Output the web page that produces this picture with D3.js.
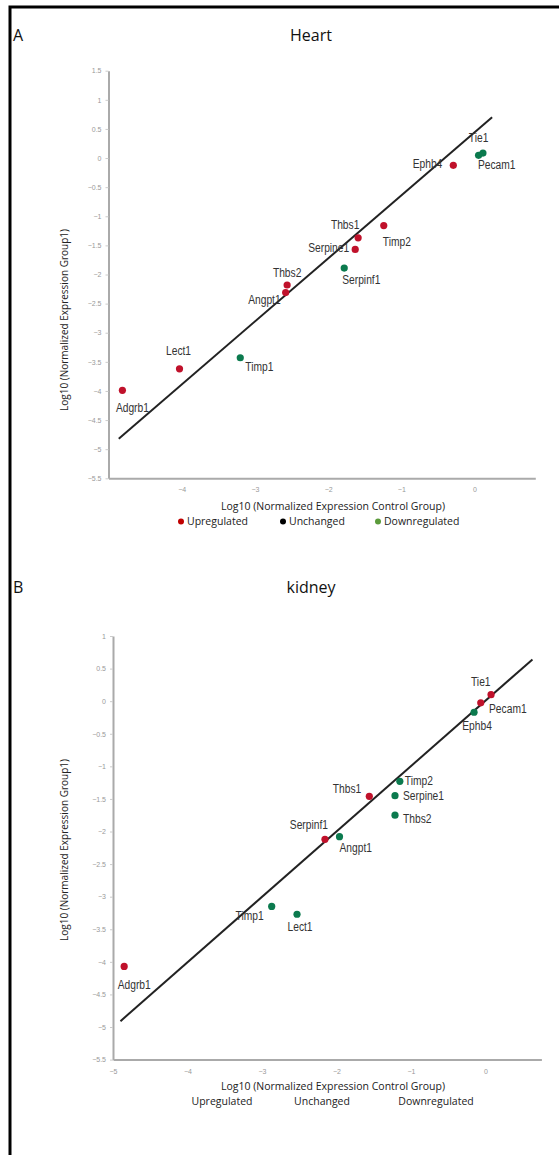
<!DOCTYPE html>
<html>
<head>
<meta charset="utf-8">
<script src="https://cdn.jsdelivr.net/npm/d3@7"></script>
<style>
    body { margin: 0; background: #fff; }
    svg { display: block; }
</style>
</head>
<body>
<svg id="chart"></svg>
<script>
// DATA
var genes = ['Adgrb1', 'Lect1', 'Timp1', 'Thbs2', 'Angpt1', 'Serpinf1', 'Serpine1', 'Thbs1', 'Timp2', 'Ephb4', 'Tie1', 'Pecam1'];

var heartControl = [-4.81, -4.03, -3.20, -2.56, -2.58, -1.78, -1.63, -1.59, -1.24, -0.29, 0.055, 0.115];
var heartGroup1 = [-3.99, -3.62, -3.43, -2.18, -2.31, -1.89, -1.57, -1.37, -1.16, -0.125, 0.046, 0.086];
var heartStatus = ['up', 'up', 'down', 'up', 'up', 'down', 'up', 'up', 'up', 'up', 'down', 'down'];
var heartFit = [[-4.86, -4.82], [0.24, 0.70]];

var kidneyControl = [-4.85, -2.53, -2.87, -1.215, -1.96, -2.155, -1.215, -1.56, -1.15, -0.154, -0.064, 0.074];
var kidneyGroup1 = [-4.07, -3.27, -3.15, -1.75, -2.08, -2.12, -1.45, -1.46, -1.23, -0.17, -0.026, 0.10];
var kidneyStatus = ['up', 'down', 'down', 'down', 'down', 'up', 'down', 'up', 'down', 'down', 'up', 'up'];
var kidneyFit = [[-4.9, -4.91], [0.63, 0.64]];

var heartYTicks = [1.5, 1, 0.5, 0, -0.5, -1, -1.5, -2, -2.5, -3, -3.5, -4, -4.5, -5, -5.5];
var heartXTicks = [-4, -3, -2, -1, 0];
var kidneyYTicks = [1, 0.5, 0, -0.5, -1, -1.5, -2, -2.5, -3, -3.5, -4, -4.5, -5, -5.5];
var kidneyXTicks = [-5, -4, -3, -2, -1, 0];

var legendLabels = ['Upregulated', 'Unchanged', 'Downregulated'];

// label placement (offset from the dot, text anchor)
var heartLabelPos = [[10, 17, 'middle'], [-1, -18, 'middle'], [5, 9, 'start'], [0, -12, 'middle'],
    [-5, 7, 'end'], [-2, 12, 'start'], [-6, -2, 'end'], [-13, -13, 'middle'],
    [-1, 16, 'start'], [-11, -2, 'end'], [0, -18, 'middle'], [-5, 12, 'start']];
var kidneyLabelPos = [[10, 18, 'middle'], [3, 12, 'middle'], [-8, 9, 'end'], [8, 3, 'start'],
    [0, 11, 'start'], [3, -15, 'end'], [8, 0, 'start'], [-8, -8, 'end'],
    [5, -1, 'start'], [3, 13, 'middle'], [0, -21, 'middle'], [-2, 14, 'start']];

var statusColor = {up: '#c0112b', down: '#0b7a4e', same: '#000'};
var legendColor = ['#c00000', '#000000', '#5b9b3b'];

var svgWidth = 559,
    svgHeight = 1155;

var svg = d3.select('#chart')
    .attr('width', svgWidth)
    .attr('height', svgHeight);

// outer frame
svg.append('rect')
    .attr('x', 10)
    .attr('y', 7)
    .attr('width', 570)
    .attr('height', 1170)
    .attr('fill', 'none')
    .attr('stroke', '#000')
    .attr('stroke-width', 3);

function drawPanel(opt) {
    var x = d3.scaleLinear().domain(opt.xDomain).range(opt.xRange);
    var y = d3.scaleLinear().domain(opt.yDomain).range(opt.yRange);

    svg.append('text')
        .attr('x', 13)
        .attr('y', opt.titleY)
        .attr('font-family', 'Open Sans')
        .attr('font-size', 16)
        .attr('fill', '#111')
        .text(opt.letter);
    svg.append('text')
        .attr('x', 311)
        .attr('y', opt.titleY)
        .attr('text-anchor', 'middle')
        .attr('font-family', 'Open Sans')
        .attr('font-size', 16)
        .attr('fill', '#111')
        .text(opt.title);

    var yAxis = d3.axisLeft(y)
        .tickValues(opt.yTicks)
        .tickFormat(d3.format('~g'))
        .tickSize(3)
        .tickSizeOuter(0)
        .tickPadding(4);
    var xAxis = d3.axisBottom(x)
        .tickValues(opt.xTicks)
        .tickFormat(d3.format('~g'))
        .tickSize(0)
        .tickSizeOuter(0)
        .tickPadding(9);

    var gy = svg.append('g')
        .attr('transform', 'translate(' + opt.xRange[0] + ',0)')
        .call(yAxis);
    var gx = svg.append('g')
        .attr('transform', 'translate(0,' + opt.yRange[0] + ')')
        .call(xAxis);

    [gx, gy].forEach(function (g) {
        g.select('.domain').attr('stroke', '#aaa').attr('stroke-width', 2);
        g.selectAll('.tick line').attr('stroke', '#ccc');
        g.selectAll('.tick text')
            .attr('fill', '#999')
            .attr('font-family', 'Liberation Sans')
            .attr('font-size', 7);
    });

    // regression line
    svg.append('line')
        .attr('x1', x(opt.fit[0][0]))
        .attr('y1', y(opt.fit[0][1]))
        .attr('x2', x(opt.fit[1][0]))
        .attr('y2', y(opt.fit[1][1]))
        .attr('stroke', '#222')
        .attr('stroke-width', 2);

    var points = genes.map(function (g, i) {
        return {gene: g, cx: opt.control[i], cy: opt.group1[i], status: opt.status[i], pos: opt.labelPos[i]};
    });

    svg.selectAll('.pt-' + opt.letter)
        .data(points)
        .enter()
        .append('circle')
        .attr('class', 'pt-' + opt.letter)
        .attr('cx', function (d) { return x(d.cx); })
        .attr('cy', function (d) { return y(d.cy); })
        .attr('r', 3.6)
        .attr('fill', function (d) { return statusColor[d.status]; });

    // condensed gene labels (narrow font look)
    svg.selectAll('.lbl-' + opt.letter)
        .data(points)
        .enter()
        .append('text')
        .attr('class', 'lbl-' + opt.letter)
        .attr('transform', function (d) {
            return 'translate(' + (x(d.cx) + d.pos[0]) + ',' + (y(d.cy) + d.pos[1]) + ') scale(0.82,1)';
        })
        .attr('dy', '0.35em')
        .attr('text-anchor', function (d) { return d.pos[2]; })
        .attr('font-family', 'Liberation Sans')
        .attr('font-size', 12.5)
        .attr('fill', '#333')
        .text(function (d) { return d.gene; });

    // axis titles
    svg.append('text')
        .attr('transform', 'translate(68,' + opt.yTitleY + ') rotate(-90)')
        .attr('text-anchor', 'middle')
        .attr('font-family', 'Open Sans')
        .attr('font-size', 10)
        .attr('fill', '#222')
        .text('Log10 (Normalized Expression Group1)');
    svg.append('text')
        .attr('x', 333)
        .attr('y', opt.xTitleY)
        .attr('text-anchor', 'middle')
        .attr('font-family', 'Open Sans')
        .attr('font-size', 10.5)
        .attr('fill', '#222')
        .text('Log10 (Normalized Expression Control Group)');

    // legend
    var lg = svg.selectAll('.lg-' + opt.letter)
        .data(legendLabels)
        .enter()
        .append('g')
        .attr('class', 'lg-' + opt.letter)
        .attr('transform', function (d, i) {
            return 'translate(' + opt.legendX[i] + ',' + opt.legendY + ')';
        });
    if (opt.legendDots) {
        lg.append('circle')
            .attr('cx', -6)
            .attr('cy', 0)
            .attr('r', 3)
            .attr('fill', function (d, i) { return legendColor[i]; });
    }
    lg.append('text')
        .attr('dy', '0.35em')
        .attr('text-anchor', opt.legendDots ? 'start' : 'middle')
        .attr('font-family', 'Open Sans')
        .attr('font-size', 10.5)
        .attr('fill', '#222')
        .text(function (d) { return d; });
}

drawPanel({
    letter: 'A', title: 'Heart', titleY: 41,
    control: heartControl, group1: heartGroup1, status: heartStatus, fit: heartFit,
    labelPos: heartLabelPos,
    xDomain: [-5, 0.83], xRange: [108.5, 535.3],
    yDomain: [-5.5, 1.5], yRange: [478.3, 70.7],
    xTicks: heartXTicks, yTicks: heartYTicks,
    yTitleY: 320, xTitleY: 510,
    legendDots: true, legendX: [187, 289, 384], legendY: 521.5
});

drawPanel({
    letter: 'B', title: 'kidney', titleY: 593,
    control: kidneyControl, group1: kidneyGroup1, status: kidneyStatus, fit: kidneyFit,
    labelPos: kidneyLabelPos,
    xDomain: [-5, 0.75], xRange: [113, 541.4],
    yDomain: [-5.5, 1], yRange: [1059.6, 636],
    xTicks: kidneyXTicks, yTicks: kidneyYTicks,
    yTitleY: 850, xTitleY: 1090,
    legendDots: false, legendX: [222, 322, 436], legendY: 1101
});
</script>
</body>
</html>
